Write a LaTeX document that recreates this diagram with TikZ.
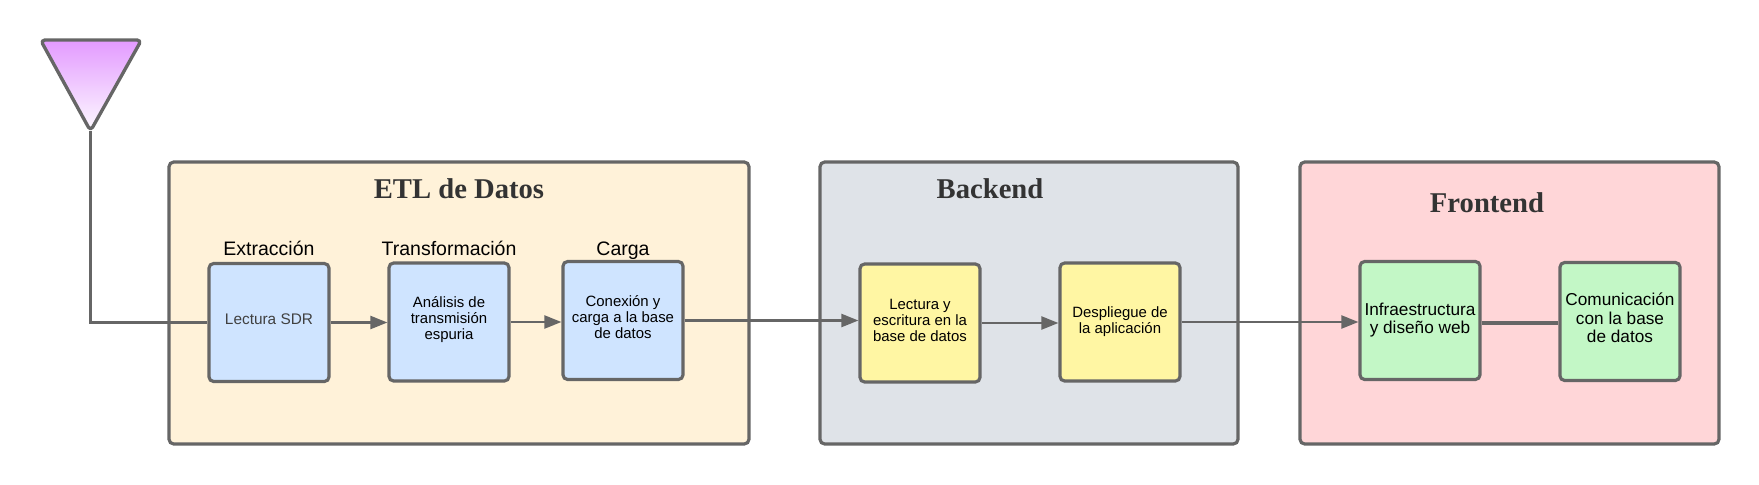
\documentclass[tikz,border=0pt]{standalone}
\usepackage{fontspec}
\setmainfont{Liberation Sans}
\newfontfamily\titulofont{Liberation Serif}
\usetikzlibrary{arrows.meta}
\definecolor{borde}{HTML}{666666}
\definecolor{etlfondo}{HTML}{FFF2D9}
\definecolor{backfondo}{HTML}{DFE3E8}
\definecolor{frontfondo}{HTML}{FFD6D8}
\definecolor{azulcaja}{HTML}{CFE4FF}
\definecolor{amarillocaja}{HTML}{FFF6A3}
\definecolor{verdecaja}{HTML}{C3F7C6}
\definecolor{antenaalta}{HTML}{E39AFF}
\definecolor{antenamedia}{HTML}{F7E6FF}
\definecolor{antenabaja}{HTML}{FDFAFF}
\tikzset{
  bloque/.style={draw=borde, line width=1.8pt, rounded corners=2.6pt, inner sep=0pt},
  caja/.style={bloque, minimum width=2.4cm, minimum height=2.36cm, align=center,
    font=\fontsize{8.5}{9.1}\selectfont},
  titulo/.style={font=\titulofont\bfseries\fontsize{16.3}{18}\selectfont, text=black!80},
  etapa/.style={font=\fontsize{11.1}{12}\selectfont, text height=8.2pt, text depth=2.4pt},
  flecha/.style={draw=borde, line width=1.2pt, -{Triangle[length=0.34cm,width=0.26cm]}},
  enlace/.style={draw=borde, line width=1.9pt}
}
\begin{document}
\begin{tikzpicture}[x=0.02cm,y=-0.02cm]
    \useasboundingbox (0,0) rectangle (1759,484);

    % Contenedores
    \node[bloque, fill=etlfondo, minimum width=11.6cm, minimum height=5.64cm] (etl) at (459,303) {};
    \node[bloque, fill=backfondo, minimum width=8.36cm, minimum height=5.64cm] (backend) at (1029,303) {};
    \node[bloque, fill=frontfondo, minimum width=8.38cm, minimum height=5.64cm] (frontend) at (1509.5,303) {};
    \node[titulo] (tetl) at (459,189) {ETL de Datos};
    \node[titulo] (tbackend) at (990,189) {Backend};
    \node[titulo] (tfrontend) at (1487,202.5) {Frontend};

    % Cajas del ETL
    \node[caja, fill=azulcaja, text=black!75, font=\fontsize{8.75}{10}\selectfont] (lectura) at (269,322.5) {Lectura SDR\\[-6pt]};
    \node[caja, fill=azulcaja] (analisis) at (449,322) {Análisis de\\transmisión\\espuria\\[-4.5pt]};
    \node[caja, fill=azulcaja] (carga) at (623,320.5) {Conexión y\\carga a la base\\de datos\\[-5.1pt]};
    \node[etapa] (textraccion) at (269,250) {Extracción};
    \node[etapa] (ttransforma) at (449,250) {Transformación};
    \node[etapa] (tcarga) at (623,250) {Carga};

    % Cajas del backend
    \node[caja, fill=amarillocaja] (lecturabd) at (920,323) {Lectura y\\escritura en la\\base de datos\\[-5.7pt]};
    \node[caja, fill=amarillocaja] (despliegue) at (1120,322) {Despliegue de\\la aplicación\\[-6.9pt]};

    % Cajas del frontend
    \node[caja, fill=verdecaja, font=\fontsize{9.8}{10.5}\selectfont] (infra) at (1420,320.5) {Infraestructura\\y diseño web\\[-7.7pt]};
    \node[caja, fill=verdecaja, font=\fontsize{9.8}{10.5}\selectfont] (comunica) at (1620,321.5) {Comunicación\\con la base\\de datos\\[-6.5pt]};

    % Antena
    \coordinate (vertice) at (90.5,131);
    \coordinate (codo) at (90.5,322.5);
    \shade[rounded corners=2.5pt, top color=antenaalta, middle color=antenamedia, bottom color=antenabaja] (40.5,40) -- (141.5,40) -- (vertice) -- cycle;
    \draw[enlace, line join=round, rounded corners=2.5pt] (40.5,40) -- (141.5,40) -- (vertice) -- cycle;
    \draw[enlace] (vertice) -- (codo) -- (lectura.west);

    % Conexiones
    \draw[flecha] (lectura.east) -- (lectura.east -| analisis.west);
    \draw[flecha] (analisis.east) -- (analisis.east -| carga.west);
    \draw[flecha] (carga.east) -- (carga.east -| lecturabd.west);
    \draw[flecha] (lecturabd.east) -- (lecturabd.east -| despliegue.west);
    \draw[flecha] (despliegue.east) -- (despliegue.east -| infra.west);
    \coordinate (union) at (1520,323);
    \draw[enlace] (union -| infra.east) -- (union -| comunica.west);
\end{tikzpicture}
\end{document}
